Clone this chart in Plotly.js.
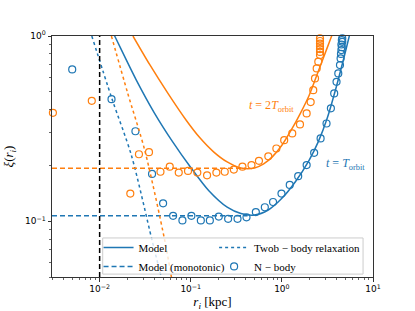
<!DOCTYPE html>
<html>
<head>
<meta charset="utf-8">
<script src="https://cdn.plot.ly/plotly-3.0.1.min.js"></script>
<style>html,body{margin:0;padding:0;background:#fff;}#chart{width:415px;height:311px;}</style>
</head>
<body>
<div id="chart"></div>
<script>
// ---- data ----
var blueModelR  = [0.0135, 0.01462, 0.0251, 0.0398, 0.0631, 0.1, 0.158, 0.251, 0.355, 0.501, 0.708, 1.0, 1.413, 1.995, 2.512, 3.162, 3.981, 5.012, 5.623];
var blueModelXi = [1.08, 1.0, 0.582, 0.385, 0.269, 0.195, 0.146, 0.119, 0.110, 0.108, 0.115, 0.133, 0.164, 0.214, 0.269, 0.363, 0.537, 0.832, 1.047];

var orangeModelR  = [0.0232, 0.0355, 0.0562, 0.0891, 0.126, 0.178, 0.251, 0.355, 0.501, 0.631, 0.794, 1.0, 1.259, 1.585, 1.995, 2.512, 3.162, 3.516, 3.98];
var orangeModelXi = [1.0, 0.700, 0.490, 0.351, 0.282, 0.237, 0.209, 0.194, 0.194, 0.204, 0.224, 0.257, 0.309, 0.380, 0.479, 0.646, 0.871, 1.0, 1.175];

var blueMonoR  = [0.003, 0.42];
var blueMonoXi = [0.107, 0.107];
var orangeMonoR  = [0.003, 0.40];
var orangeMonoXi = [0.193, 0.193];

var blueRelaxR  = [0.0082, 0.01365, 0.0223, 0.0376, 0.0474];
var blueRelaxXi = [1.0, 0.458, 0.227, 0.0789, 0.05];
var orangeRelaxR  = [0.01346, 0.0203, 0.0313, 0.0518, 0.0614];
var orangeRelaxXi = [1.0, 0.492, 0.241, 0.0789, 0.0498];

var blueNbodyR  = [0.005, 0.0135, 0.0247, 0.0376, 0.0497, 0.064, 0.081, 0.1016, 0.129, 0.162, 0.203, 0.257, 0.326, 0.409, 0.518, 0.65, 0.80, 0.99, 1.22, 1.51, 1.87, 2.26, 2.66, 3.09, 3.45, 3.75, 3.98, 4.16, 4.34, 4.41, 4.45, 4.5, 4.55, 4.5, 4.6, 4.55, 4.6];
var blueNbodyXi = [0.66, 0.456, 0.306, 0.180, 0.125, 0.107, 0.101, 0.107, 0.101, 0.101, 0.106, 0.103, 0.103, 0.105, 0.112, 0.119, 0.127, 0.141, 0.157, 0.175, 0.201, 0.234, 0.28, 0.337, 0.407, 0.49, 0.566, 0.628, 0.697, 0.757, 0.80, 0.84, 0.87, 0.90, 0.93, 0.95, 0.97];

var orangeNbodyR  = [0.00307, 0.0082, 0.0217, 0.027, 0.0348, 0.0465, 0.0588, 0.0738, 0.0933, 0.118, 0.151, 0.191, 0.236, 0.297, 0.369, 0.464, 0.56, 0.71, 0.87, 1.06, 1.30, 1.58, 1.87, 2.07, 2.21, 2.31, 2.41, 2.51, 2.62, 2.62, 2.62, 2.62, 2.62, 2.62, 2.62];
var orangeNbodyXi = [0.385, 0.447, 0.141, 0.230, 0.236, 0.185, 0.197, 0.183, 0.187, 0.183, 0.177, 0.183, 0.185, 0.19, 0.197, 0.201, 0.212, 0.224, 0.247, 0.274, 0.298, 0.333, 0.382, 0.44, 0.51, 0.59, 0.668, 0.727, 0.789, 0.82, 0.85, 0.88, 0.91, 0.94, 0.97];

var rCut = [0.01, 0.01];
var xiCut = [0.05, 1.0];

var xTickVals = [0.01, 0.1, 1, 10];
var xTickText = ['10<sup>−2</sup>', '10<sup>−1</sup>', '10<sup>0</sup>', '10<sup>1</sup>'];
var yTickVals = [0.1, 1];
var yTickText = ['10<sup>−1</sup>', '10<sup>0</sup>'];

var legendNames = ['Model', 'Model (monotonic)', 'Twob − body relaxation', 'N − body'];

// ---- styling ----
var BLUE = '#1f77b4', ORANGE = '#ff7f0e';
function minorVals(lo, hi) {
  var v = [];
  for (var e = lo; e <= hi; e++) for (var m = 2; m <= 9; m++) v.push(m * Math.pow(10, e));
  return v;
}
var xMinor = minorVals(-3, 0).filter(function (d) { return d >= 0.003 && d <= 10; });
var yMinor = minorVals(-2, -1).filter(function (d) { return d >= 0.05 && d <= 1; });

var SM = 0.8;
var traces = [
  {x: blueModelR, y: blueModelXi, mode: 'lines', line: {color: BLUE, width: 1.5, shape: 'spline', smoothing: SM}, name: legendNames[0], legend: 'legend'},
  {x: blueMonoR, y: blueMonoXi, mode: 'lines', line: {color: BLUE, width: 1.5, dash: '5px,3px'}, name: legendNames[1], legend: 'legend'},
  {x: blueRelaxR, y: blueRelaxXi, mode: 'lines', line: {color: BLUE, width: 1.5, dash: 'dot', shape: 'spline', smoothing: SM}, name: legendNames[2], legend: 'legend2'},
  {x: blueNbodyR, y: blueNbodyXi, mode: 'markers', marker: {symbol: 'circle-open', size: 7, color: BLUE, line: {width: 1.2}}, name: legendNames[3], legend: 'legend2', cliponaxis: false},
  {x: orangeModelR, y: orangeModelXi, mode: 'lines', line: {color: ORANGE, width: 1.5, shape: 'spline', smoothing: SM}, showlegend: false},
  {x: orangeRelaxR, y: orangeRelaxXi, mode: 'lines', line: {color: ORANGE, width: 1.5, dash: 'dot', shape: 'spline', smoothing: SM}, showlegend: false},
  {x: orangeMonoR, y: orangeMonoXi, mode: 'lines', line: {color: ORANGE, width: 1.5, dash: '5px,3px'}, showlegend: false},
  {x: orangeNbodyR, y: orangeNbodyXi, mode: 'markers', marker: {symbol: 'circle-open', size: 7, color: ORANGE, line: {width: 1.2}}, showlegend: false, cliponaxis: false},
  {x: rCut, y: xiCut, mode: 'lines', line: {color: '#000', width: 1.5, dash: '5px,3px'}, showlegend: false}
];

var tickFont = {family: 'DejaVu Sans', size: 9, color: '#000'};
var serif = 'Liberation Serif, DejaVu Serif, serif';
var legFont = {family: serif, size: 11, color: '#000'};

var layout = {
  width: 415, height: 311,
  margin: {l: 52, r: 42, t: 36, b: 34},
  paper_bgcolor: '#fff', plot_bgcolor: '#fff',
  showlegend: true,
  xaxis: {
    type: 'log', range: [Math.log10(0.003), 1],
    tickmode: 'array', tickvals: xTickVals, ticktext: xTickText,
    ticks: 'outside', ticklen: 3.5, tickwidth: 0.8, tickcolor: '#000',
    minor: {tickmode: 'array', tickvals: xMinor, ticks: 'outside', ticklen: 2, tickwidth: 0.6, tickcolor: '#000'},
    showline: true, mirror: true, linecolor: '#333', linewidth: 1,
    showgrid: false, zeroline: false, tickfont: tickFont, automargin: false,
    title: {text: '<i>r<sub>i</sub></i> [kpc]', font: {family: serif, size: 13, color: '#000'}, standoff: 4}
  },
  yaxis: {
    type: 'log', range: [Math.log10(0.05), 0],
    tickmode: 'array', tickvals: yTickVals, ticktext: yTickText,
    ticks: 'outside', ticklen: 3.5, tickwidth: 0.8, tickcolor: '#000',
    minor: {tickmode: 'array', tickvals: yMinor, ticks: 'outside', ticklen: 2, tickwidth: 0.6, tickcolor: '#000'},
    showline: true, mirror: true, linecolor: '#333', linewidth: 1,
    showgrid: false, zeroline: false, tickfont: tickFont, automargin: false,
    title: {text: '<i>ξ</i>(<i>r<sub>i</sub></i>)', font: {family: serif, size: 13, color: '#000'}, standoff: 8}
  },
  legend: {
    orientation: 'v', x: 0.145, xanchor: 'left', y: 0.183, yanchor: 'top',
    bgcolor: 'rgba(0,0,0,0)', borderwidth: 0, font: legFont, itemwidth: 30, tracegroupgap: 0
  },
  legend2: {
    orientation: 'v', x: 0.505, xanchor: 'left', y: 0.183, yanchor: 'top',
    bgcolor: 'rgba(0,0,0,0)', borderwidth: 0, font: legFont, itemwidth: 30, tracegroupgap: 0
  },
  shapes: [
    {type: 'rect', xref: 'paper', yref: 'paper', x0: 0.158, x1: 0.969, y0: 0.012, y1: 0.162,
     fillcolor: 'rgba(255,255,255,0.8)', line: {color: '#cccccc', width: 1}, layer: 'above'}
  ],
  annotations: [
    {x: Math.log10(0.776), y: Math.log10(0.418), xref: 'x', yref: 'y', text: '<i>t</i> = 2<i>T</i><sub>orbit</sub>', showarrow: false, font: {family: serif, size: 12, color: ORANGE}},
    {x: Math.log10(4.99), y: Math.log10(0.203), xref: 'x', yref: 'y', text: '<i>t</i> = <i>T</i><sub>orbit</sub>', showarrow: false, font: {family: serif, size: 12, color: BLUE}}
  ]
};

Plotly.newPlot('chart', traces, layout, {displayModeBar: false, staticPlot: true});
</script>
</body>
</html>
